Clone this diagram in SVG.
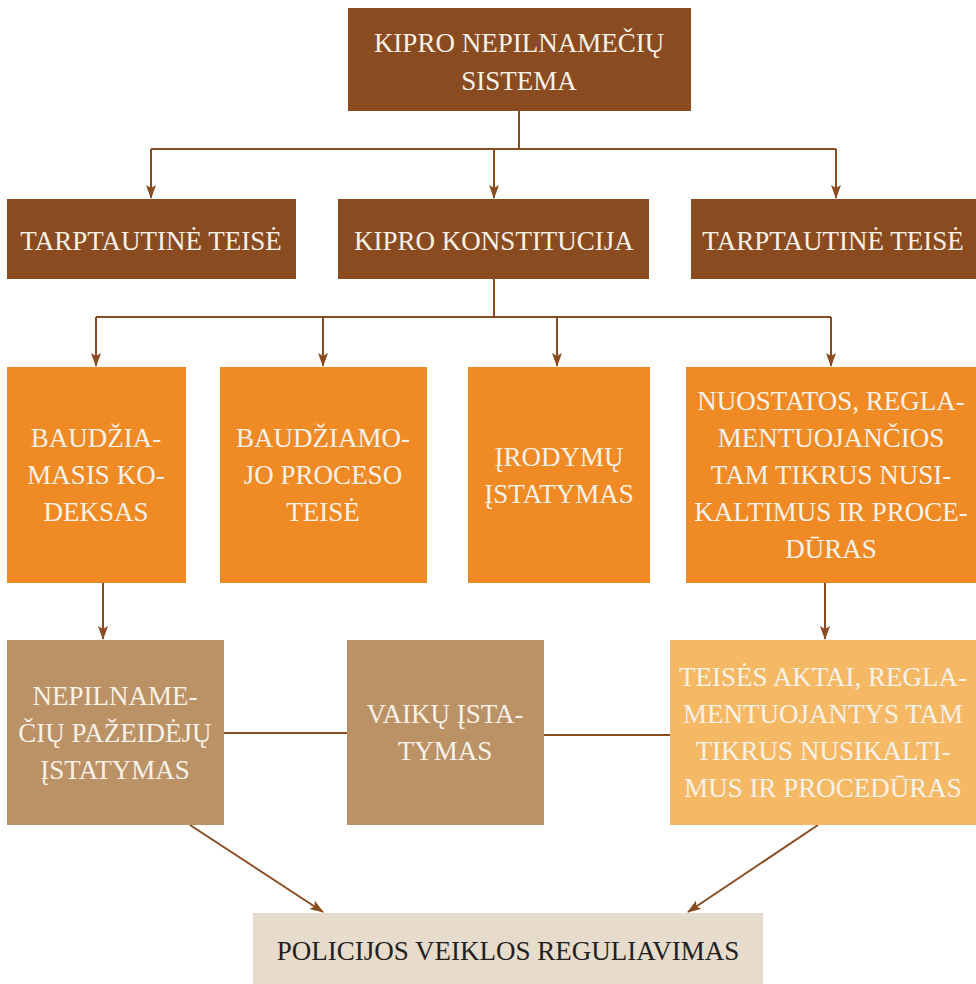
<svg xmlns="http://www.w3.org/2000/svg" width="976" height="984" viewBox="0 0 976 984">
<style>
.t{font-family:"Liberation Serif","DejaVu Serif",serif;font-size:27px;fill:#f7f1e8;text-anchor:middle}
.d{fill:#8a4b20}.o{fill:#f08a24}.n{fill:#ba9266}.l{fill:#f5b965}.b{fill:#e7dbcc}
.c{stroke:#8a4b20;stroke-width:2;fill:none}
.a{marker-end:url(#ah)}
</style>
<defs>
<marker id="ah" viewBox="0 0 14 10" refX="13" refY="5" markerWidth="14" markerHeight="10" markerUnits="userSpaceOnUse" orient="auto">
<path d="M0,0 L14,5 L0,10 L3,5 z" fill="#8a4b20"/>
</marker>
</defs>
<rect width="976" height="984" fill="#fff"/>
<g id="connectors">
<path class="c" d="M519,111 V149 M151,149 H836"/>
<path class="c a" d="M151,149 V198"/>
<path class="c a" d="M494,149 V198"/>
<path class="c a" d="M836,149 V198"/>
<path class="c" d="M494,279 V317 M96,317 H831"/>
<path class="c a" d="M96,317 V366"/>
<path class="c a" d="M323,317 V366"/>
<path class="c a" d="M557,317 V366"/>
<path class="c a" d="M831,317 V366"/>
<path class="c a" d="M103,583 V639"/>
<path class="c a" d="M825,583 V639"/>
<path class="c" d="M224,733 H347 M544,735 H670"/>
<path class="c a" d="M190,825 L323,912"/>
<path class="c a" d="M818,825 L688,912"/>
</g>
<g id="n_top"><rect class="d" x="348" y="8" width="343" height="103"/>
<text class="t" x="519" y="52">KIPRO NEPILNAMEČIŲ</text><text class="t" x="519" y="90">SISTEMA</text></g>
<g id="n_tt1"><rect class="d" x="7" y="199" width="289" height="80"/><text class="t" x="151" y="250">TARPTAUTINĖ TEISĖ</text></g>
<g id="n_konst"><rect class="d" x="338" y="199" width="311" height="80"/><text class="t" x="494" y="250">KIPRO KONSTITUCIJA</text></g>
<g id="n_tt2"><rect class="d" x="691" y="199" width="285" height="80"/><text class="t" x="833" y="250">TARPTAUTINĖ TEISĖ</text></g>
<g id="n_bk"><rect class="o" x="7" y="367" width="179" height="216"/>
<text class="t" x="96" y="447">BAUDŽIA-</text><text class="t" x="96" y="484">MASIS KO-</text><text class="t" x="96" y="521">DEKSAS</text></g>
<g id="n_bpt"><rect class="o" x="220" y="367" width="207" height="216"/>
<text class="t" x="323" y="447">BAUDŽIAMO-</text><text class="t" x="323" y="484">JO PROCESO</text><text class="t" x="323" y="521">TEISĖ</text></g>
<g id="n_ir"><rect class="o" x="468" y="367" width="182" height="216"/>
<text class="t" x="559" y="466">ĮRODYMŲ</text><text class="t" x="559" y="503">ĮSTATYMAS</text></g>
<g id="n_nuo"><rect class="o" x="686" y="367" width="290" height="216"/>
<text class="t" x="831" y="410">NUOSTATOS, REGLA-</text><text class="t" x="831" y="447">MENTUOJANČIOS</text><text class="t" x="831" y="484">TAM TIKRUS NUSI-</text><text class="t" x="831" y="521">KALTIMUS IR PROCE-</text><text class="t" x="831" y="558">DŪRAS</text></g>
<g id="n_nep"><rect class="n" x="7" y="640" width="217" height="185"/>
<text class="t" x="115" y="705">NEPILNAME-</text><text class="t" x="115" y="742">ČIŲ PAŽEIDĖJŲ</text><text class="t" x="115" y="779">ĮSTATYMAS</text></g>
<g id="n_vai"><rect class="n" x="347" y="640" width="197" height="185"/>
<text class="t" x="445" y="723">VAIKŲ ĮSTA-</text><text class="t" x="445" y="760">TYMAS</text></g>
<g id="n_ta"><rect class="l" x="670" y="640" width="306" height="185"/>
<text class="t" x="823" y="686">TEISĖS AKTAI, REGLA-</text><text class="t" x="823" y="723">MENTUOJANTYS TAM</text><text class="t" x="823" y="760">TIKRUS NUSIKALTI-</text><text class="t" x="823" y="797">MUS IR PROCEDŪRAS</text></g>
<g id="n_pol"><rect class="b" x="253" y="913" width="510" height="71"/>
<text class="t" x="508" y="960" style="fill:#231f20">POLICIJOS VEIKLOS REGULIAVIMAS</text></g>
</svg>
